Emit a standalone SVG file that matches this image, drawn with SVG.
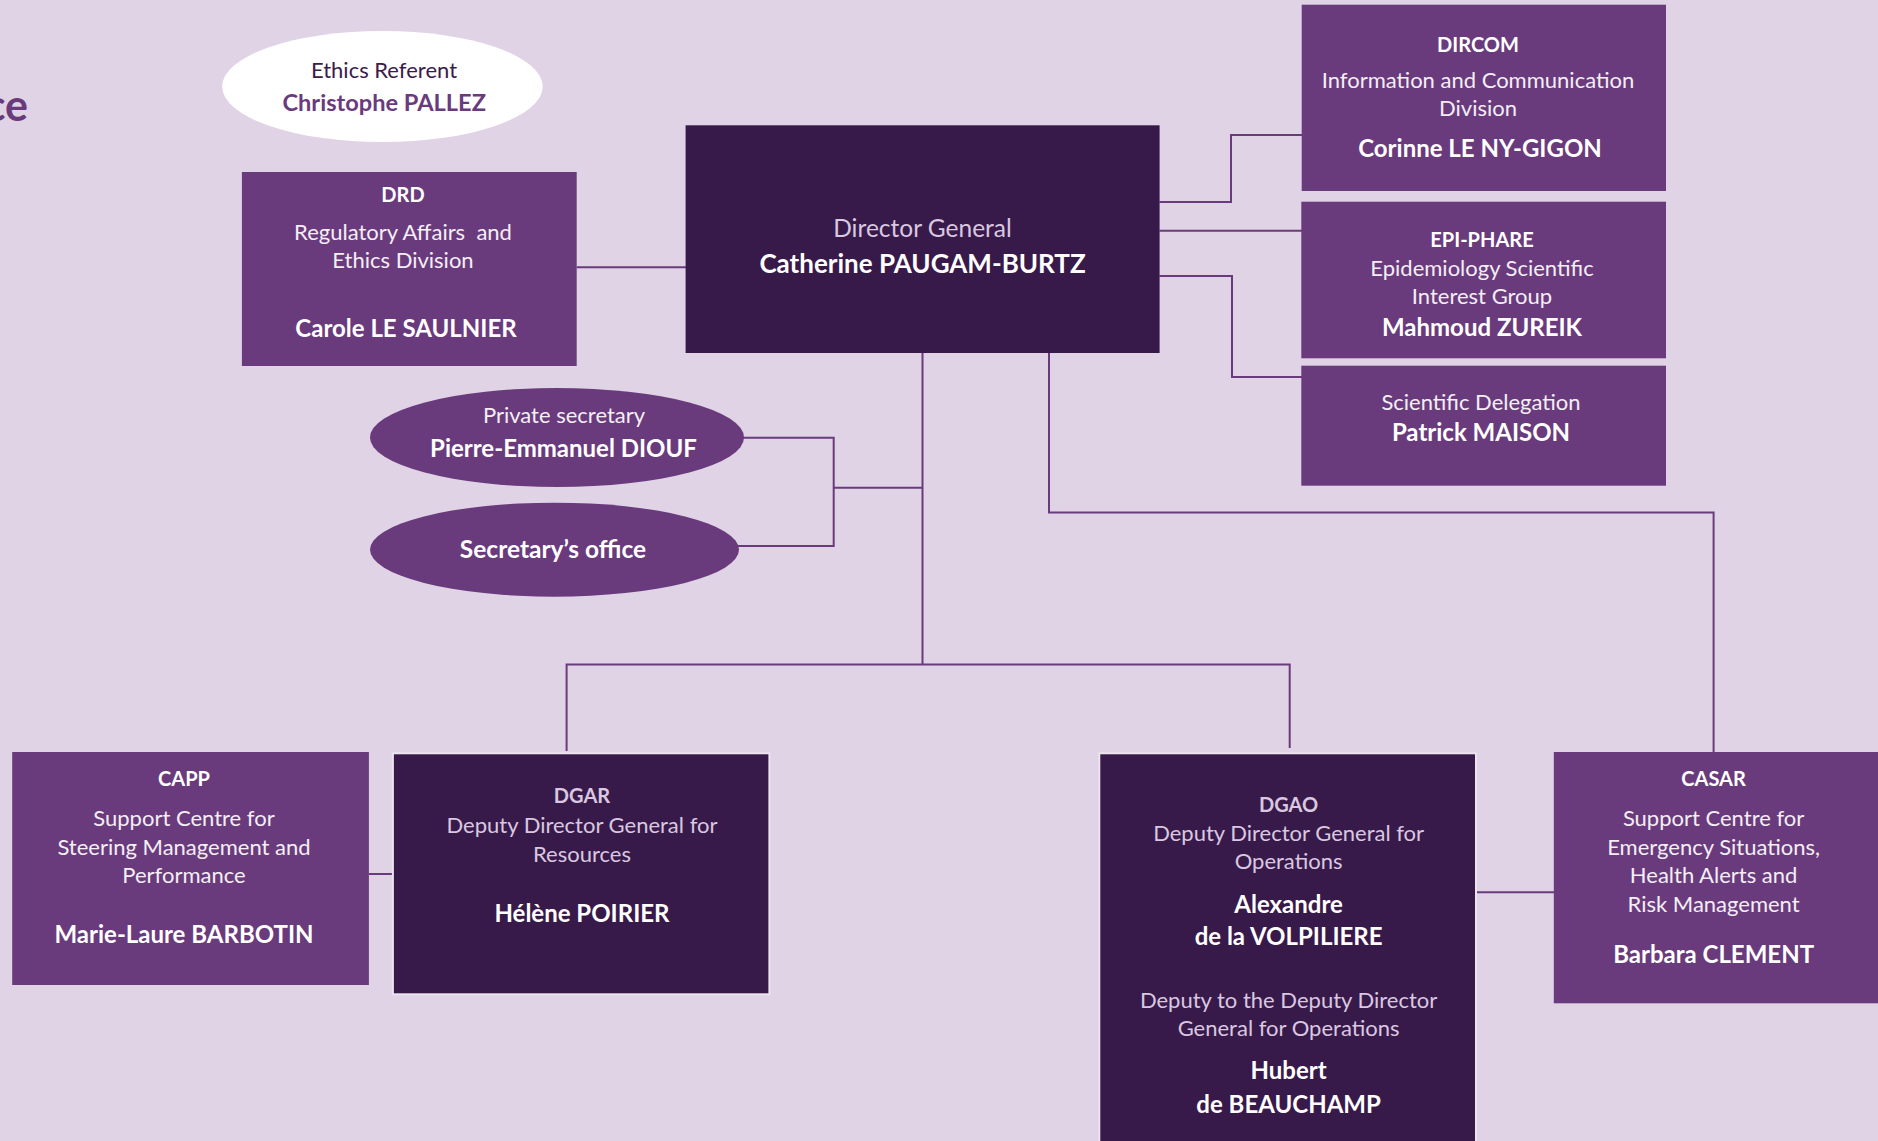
<svg xmlns="http://www.w3.org/2000/svg" width="1878" height="1141" viewBox="0 0 1878 1141">
<style>
text{font-family:Lato,"Open Sans","Liberation Sans",sans-serif;text-anchor:middle}
.r{font-size:22px;fill:#f4eef6}
.rd{font-size:22px;fill:#d9c8e0}
.h{font-size:20px;font-weight:bold;fill:#ffffff}
.hd{font-size:20px;font-weight:bold;fill:#d9c8e0}
.n{font-size:24px;font-weight:bold;fill:#ffffff}
.p{fill:#6a3b7c}
.d{fill:#381a4a;stroke:#ece4ee;stroke-width:2}
.dg{fill:#381a4a}
.c{fill:none;stroke:#6a3b7c;stroke-width:2}
</style>
<rect width="1878" height="1141" fill="#e1d3e6"/>
<text x="28" y="121" style="font-size:43px;font-weight:bold;fill:#6a3b7c;text-anchor:end">ce</text>
<g id="connectors">
<path class="c" d="M576.7 267.3H686"/>
<path class="c" d="M1159.5 202H1231V135H1302"/>
<path class="c" d="M1159.5 230.7H1302"/>
<path class="c" d="M1159.5 276H1232V377H1302"/>
<path class="c" d="M742 437.7H833.7V546H737"/>
<path class="c" d="M833.7 487.7H922.5"/>
<path class="c" d="M922.5 353V664.5"/>
<path class="c" d="M566.6 751V664.5H1289.7V748"/>
<path class="c" d="M1049 353V512.5H1713.6V752"/>
<path class="c" d="M369 874H393"/>
<path class="c" d="M1476 892.3H1554"/>
</g>
<g id="ethics">
<ellipse cx="382.4" cy="86.5" rx="160.3" ry="55.5" fill="#ffffff"/>
<text x="384" y="78.3" style="font-size:22px;fill:#3a1b4b">Ethics Referent</text>
<text x="384.2" y="111" style="font-size:23.6px;font-weight:bold;fill:#6a3b7c">Christophe PALLEZ</text>
</g>
<g id="drd">
<rect class="p" x="241.9" y="172" width="334.8" height="194"/>
<text class="h" x="403" y="202">DRD</text>
<text class="r" x="403" y="240" xml:space="preserve" style="white-space:pre">Regulatory Affairs  and</text>
<text class="r" x="403" y="268.3">Ethics Division</text>
<text class="n" x="406" y="337">Carole LE SAULNIER</text>
</g>
<g id="dg">
<rect class="dg" x="685.6" y="125.3" width="474" height="227.7"/>
<text x="922.5" y="236.7" style="font-size:24.5px;fill:#d9c8e0">Director General</text>
<text x="922.5" y="272.7" style="font-size:26px;font-weight:bold;fill:#ffffff">Catherine PAUGAM-BURTZ</text>
</g>
<g id="dircom">
<rect class="p" x="1301.7" y="4.7" width="364.3" height="186.3"/>
<text class="h" x="1478" y="51.7">DIRCOM</text>
<text class="r" x="1478" y="87.7">Information and Communication</text>
<text class="r" x="1478" y="115.5">Division</text>
<text class="n" x="1480" y="157.3">Corinne LE NY-GIGON</text>
</g>
<g id="epiphare">
<rect class="p" x="1301.3" y="201.7" width="364.7" height="156.6"/>
<text class="h" x="1482" y="246.7">EPI-PHARE</text>
<text class="r" x="1482" y="275.7">Epidemiology Scientific</text>
<text class="r" x="1482" y="304.3">Interest Group</text>
<text class="n" x="1482" y="335.7">Mahmoud ZUREIK</text>
</g>
<g id="scientific">
<rect class="p" x="1301.3" y="365.7" width="364.7" height="120"/>
<text class="r" x="1481" y="410">Scientific Delegation</text>
<text class="n" x="1481" y="440.7">Patrick MAISON</text>
</g>
<g id="private">
<ellipse class="p" cx="557" cy="437.5" rx="187" ry="49.5"/>
<text class="r" x="564" y="423">Private secretary</text>
<text class="n" x="563.5" y="457">Pierre-Emmanuel DIOUF</text>
</g>
<g id="secretary">
<ellipse class="p" cx="554.5" cy="549.7" rx="184.5" ry="47"/>
<text class="n" x="553" y="558.3" style="font-size:24.5px">Secretary’s office</text>
</g>
<g id="capp">
<rect class="p" x="12.2" y="752" width="356.7" height="233"/>
<text class="h" x="184" y="785.7">CAPP</text>
<text class="r" x="184" y="826">Support Centre for</text>
<text class="r" x="184" y="855">Steering Management and</text>
<text class="r" x="184" y="883.3">Performance</text>
<text class="n" x="184" y="943.3">Marie-Laure BARBOTIN</text>
</g>
<g id="dgar">
<rect class="d" x="392.9" y="753.3" width="376.5" height="241"/>
<text class="hd" x="582" y="803.3">DGAR</text>
<text class="rd" x="582" y="832.7">Deputy Director General for</text>
<text class="rd" x="582" y="861.7">Resources</text>
<text class="n" x="582" y="921.7">Hélène POIRIER</text>
</g>
<g id="dgao">
<rect class="d" x="1099.3" y="753.3" width="376.7" height="400"/>
<text class="hd" x="1288.6" y="811.7">DGAO</text>
<text class="rd" x="1288.6" y="841">Deputy Director General for</text>
<text class="rd" x="1288.6" y="869.3">Operations</text>
<text class="n" x="1288.6" y="913.3">Alexandre</text>
<text class="n" x="1288.6" y="945">de la VOLPILIERE</text>
<text class="rd" x="1288.6" y="1008.3">Deputy to the Deputy Director</text>
<text class="rd" x="1288.6" y="1036">General for Operations</text>
<text class="n" x="1288.6" y="1079.3">Hubert</text>
<text class="n" x="1288.6" y="1112.7">de BEAUCHAMP</text>
</g>
<g id="casar">
<rect class="p" x="1553.8" y="752" width="330" height="251.3"/>
<text class="h" x="1713.6" y="786">CASAR</text>
<text class="r" x="1713.6" y="826">Support Centre for</text>
<text class="r" x="1713.6" y="855">Emergency Situations,</text>
<text class="r" x="1713.6" y="883.3">Health Alerts and</text>
<text class="r" x="1713.6" y="912.3">Risk Management</text>
<text class="n" x="1713.6" y="962.7">Barbara CLEMENT</text>
</g>
</svg>
